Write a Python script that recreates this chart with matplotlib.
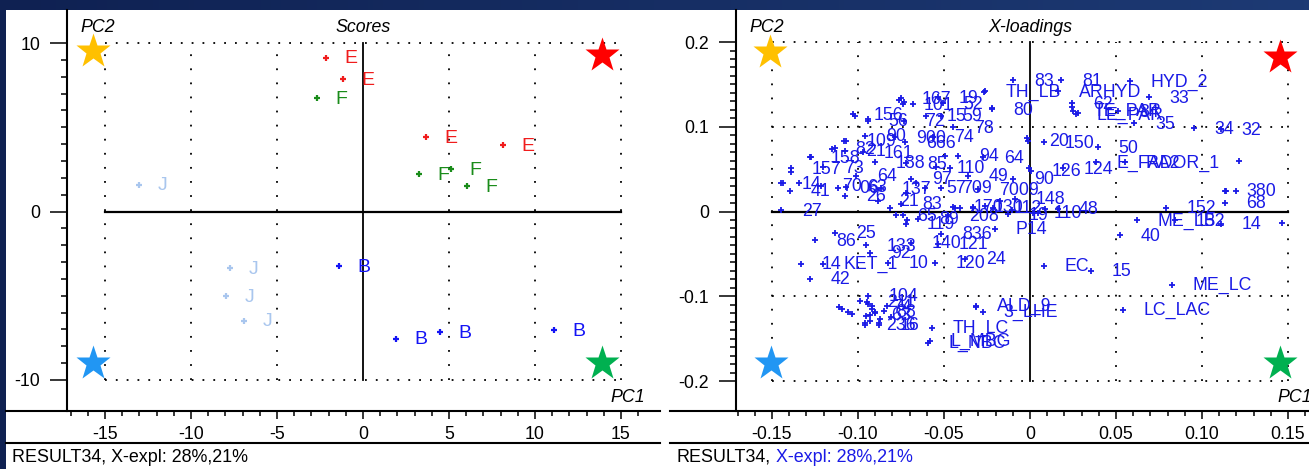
import numpy as np
import matplotlib
matplotlib.use('Agg')
import matplotlib.pyplot as plt
from matplotlib.patches import Rectangle
from matplotlib.lines import Line2D
from matplotlib.colors import LinearSegmentedColormap

W, H, DPI = 1309, 469, 100
plt.rcParams['font.family'] = ['Liberation Sans', 'DejaVu Sans']

# ---------------- data: scores ----------------
score_groups = ['E', 'F', 'J', 'B']
score_colors = ['#f01c1c', '#1a8c1a', '#a9c6ee', '#1414f5']
score_x_E = [-2.15, -1.16, 3.67, 8.14]
score_y_E = [9.14, 7.86, 4.42, 3.95]
score_x_F = [-2.67, 3.24, 5.10, 6.05]
score_y_F = [6.73, 2.23, 2.52, 1.51]
score_x_J = [-13.0, -7.73, -7.97, -6.92]
score_y_J = [1.60, -3.38, -5.04, -6.47]
score_x_B = [-1.40, 1.92, 4.48, 11.10]
score_y_B = [-3.26, -7.54, -7.18, -7.06]

score_xticks = [-15, -10, -5, 0, 5, 10, 15]
score_xticklabels = ['-15', '-10', '-5', '0', '5', '10', '15']
score_yticks = [-10, 0, 10]
score_yticklabels = ['-10', '0', '10']

# corner stars (gold, red, blue, green)
star_colors = ['#ffc000', '#ff0000', '#2196f3', '#00b050']
star_x_scores = [-15.72, 13.9, -15.72, 13.9]
star_y_scores = [9.54, 9.29, -9.02, -9.02]
star_x_load = [-0.151, 0.1453, -0.1506, 0.1453]
star_y_load = [0.1877, 0.182, -0.179, -0.179]

# ---------------- data: X-loadings ----------------
load_labels = [
    '83', '81', 'TH_LB', 'ARHYD', 'HYD_2', '33', '80', '62', 'TE_PAR', 'LE_PAR',
    '84', '35', '34', '32', '20', '150', '50', 'E_FADOR_1', 'RA2', '126',
    '124', '380', '68', '14', '152', 'ME_LB', '152', '40', '148', '48',
    '110', '90', '49', '7009', 'P14', 'EC', '15', 'ME_LC', 'LC_LAC', 'ALD_9',
    '3_LHE', 'TH_LC', 'L_NBC', 'L_MBG', '104', '236', '16', '42', '14', 'KET_1',
    '10', '120', '24', '86', '25', '133', '92', '140', '121', '119',
    '836', '89', '27', '156', '56', '72', '15', '59', '78', '167',
    '101', '19', '52', '90', '109', '900', '666', '74', '82', '21',
    '161', '158', '188', '85', '110', '94', '64', '157', '73', '64',
    '14', '41', '70', '06', '63', '26', '97', '137', '57', '709',
    '21', '83', '170', '130', '112', '65', '208', '19', '211', '74',
    '88', '63',
]
load_x = [
    -0.0099, 0.0183, -0.0262, 0.0163, 0.0581, 0.0692, -0.0221, 0.0244, 0.0250, 0.0267,
    0.0512, 0.0605, 0.0953, 0.1110, -0.0012, 0.0081, 0.0395, 0.0384, 0.0552, 0.0006,
    0.0192, 0.1134, 0.1134, 0.1110, 0.0791, 0.0622, 0.0843, 0.0523, -0.0087, 0.0163,
    0.0017, -0.0099, -0.0360, -0.0302, -0.0203, 0.0081, 0.0355, 0.0826, 0.0538, -0.0314,
    -0.0273, -0.0570, -0.0593, -0.0581, -0.0942, -0.0959, -0.0878, -0.1279, -0.1331, -0.1203,
    -0.0826, -0.0552, -0.0378, -0.1250, -0.1134, -0.0953, -0.0930, -0.0692, -0.0535, -0.0721,
    -0.0517, -0.0651, -0.1448, -0.1029, -0.0942, -0.0733, -0.0605, -0.0517, -0.0448, -0.0750,
    -0.0738, -0.0535, -0.0506, -0.0959, -0.1070, -0.0785, -0.0727, -0.0564, -0.1134, -0.1076,
    -0.0971, -0.1279, -0.0901, -0.0721, -0.0547, -0.0419, -0.0273, -0.1390, -0.1203, -0.1012,
    -0.1448, -0.1395, -0.1215, -0.1116, -0.1070, -0.1076, -0.0692, -0.0866, -0.0610, -0.0517,
    -0.0884, -0.0750, -0.0448, -0.0331, -0.0215, -0.0779, -0.0477, -0.0128, -0.0950, -0.0920,
    -0.0900, -0.0930,
]
load_y = [
    0.1547, 0.1547, 0.1417, 0.1417, 0.1535, 0.1346, 0.1204, 0.1275, 0.1192, 0.1145,
    0.1181, 0.1039, 0.0980, 0.0968, 0.0838, 0.0815, 0.0756, 0.0579, 0.0579, 0.0484,
    0.0508, 0.0248, 0.0106, -0.0142, 0.0047, -0.0106, -0.0106, -0.0283, 0.0153, 0.0035,
    -0.0012, 0.0389, 0.0425, 0.0260, -0.0201, -0.0638, -0.0697, -0.0862, -0.1157, -0.1110,
    -0.1181, -0.1369, -0.1547, -0.1523, -0.0992, -0.1334, -0.1334, -0.0791, -0.0614, -0.0614,
    -0.0602, -0.0602, -0.0555, -0.0342, -0.0248, -0.0401, -0.0484, -0.0366, -0.0378, -0.0142,
    -0.0260, -0.0083, 0.0012, 0.1145, 0.1074, 0.1074, 0.1133, 0.1133, 0.0992, 0.1334,
    0.1263, 0.1346, 0.1275, 0.0897, 0.0838, 0.0874, 0.0815, 0.0885, 0.0744, 0.0720,
    0.0697, 0.0638, 0.0579, 0.0567, 0.0520, 0.0661, 0.0638, 0.0508, 0.0520, 0.0425,
    0.0331, 0.0248, 0.0307, 0.0283, 0.0295, 0.0189, 0.0389, 0.0272, 0.0283, 0.0283,
    0.0130, 0.0094, 0.0059, 0.0059, 0.0047, -0.0047, -0.0047, -0.0035, -0.1070, -0.1120,
    -0.1180, -0.1220,
]
# unlabeled loading points
extra_x = [
    -0.1390, -0.1273, -0.1151, -0.1081, -0.1017, -0.0942, -0.0733, -0.0680, -0.0762, -0.0267,
    -0.0221, 0.0244, 0.0279, 0.1215, 0.1140, 0.1198, 0.1465, -0.0721, -0.0663, -0.0814,
    -0.0738, -0.0715, -0.0407, -0.0331, -0.0494, -0.0465, -0.0017, -0.0006, -0.1343, -0.1436,
    -0.1110, -0.1093, -0.1058, -0.1035, -0.0988, -0.0942, -0.0919, -0.0953, -0.0901, -0.0872,
    -0.0930, -0.0849, -0.0959, -0.0878, -0.0808, -0.0831, -0.0314, -0.0436, -0.0262, -0.0174,
    -0.0105, 0.0047, 0.0087,
]
extra_y = [
    0.0472, 0.0638, 0.0732, 0.0838, 0.1133, 0.1086, 0.1287, 0.1263, 0.1311, 0.1405,
    0.1216, 0.1228, 0.1157, 0.0602, 0.0248, 0.0248, -0.0130, 0.0224, 0.0342, 0.0047,
    -0.0047, -0.0106, 0.0047, 0.0047, 0.0661, 0.0519, 0.0862, 0.0508, 0.0342, 0.0342,
    -0.1122, -0.1145, -0.1181, -0.1204, -0.1051, -0.1086, -0.1145, -0.1228, -0.1192, -0.1263,
    -0.1287, -0.1169, -0.1310, -0.1310, -0.1240, -0.1110, -0.1122, 0.0047, 0.0071, 0.0130,
    0.0012, -0.0012, 0.0035,
]

load_xticks = [-0.15, -0.10, -0.05, 0, 0.05, 0.10, 0.15]
load_xticklabels = ['-0.15', '-0.10', '-0.05', '0', '0.05', '0.10', '0.15']
load_yticks = [-0.2, -0.1, 0, 0.1, 0.2]
load_yticklabels = ['-0.2', '-0.1', '0', '0.1', '0.2']

LOAD_COLOR = '#1a1ae6'

# ---------------- figure ----------------
fig = plt.figure(figsize=(W / DPI, H / DPI), dpi=DPI)

bg = fig.add_axes([0, 0, 1, 1], zorder=-20)
bg.imshow(np.linspace(0, 1, 256)[None, :], aspect='auto',
          cmap=LinearSegmentedColormap.from_list('navy', ['#0f2152', '#1d3a74']),
          extent=[0, 1, 0, 1])
bg.axis('off')
fig.add_artist(Rectangle((6 / W, 0), (W - 6) / W, (H - 10) / H, transform=fig.transFigure,
                         facecolor='white', edgecolor='none', zorder=-15))


def px_axes(x0, x1, ytop, ybot):
    return fig.add_axes([x0 / W, (H - ybot) / H, (x1 - x0) / W, (ybot - ytop) / H])


def ftext(px, py, s, **kw):
    return fig.text(px / W, 1 - py / H, s, **kw)


def fline(x0, x1, py, lw=1.5):
    fig.add_artist(Line2D([x0 / W, x1 / W], [1 - py / H, 1 - py / H],
                          transform=fig.transFigure, color='black', lw=lw))


HDOT = (0, (1, 5))
VDOT = (0, (1, 6.8))


def style_axes(ax, xticks, xlabels, yticks, ylabels, xminor, yminor):
    ax.set_facecolor('none')
    for s in ['top', 'right', 'bottom']:
        ax.spines[s].set_visible(False)
    ax.spines['left'].set_linewidth(1.5)
    ax.set_xticks(xticks)
    ax.set_xticklabels(xlabels)
    ax.set_yticks(yticks)
    ax.set_yticklabels(ylabels)
    ax.set_xticks(xminor, minor=True)
    ax.set_yticks(yminor, minor=True)
    ax.tick_params(axis='x', which='major', direction='out', length=5.8, width=1.1,
                   pad=5, labelsize=12.8)
    ax.tick_params(axis='x', which='minor', direction='out', length=3.6, width=1.1)
    ax.tick_params(axis='y', which='major', direction='out', length=12.2, width=1.1,
                   pad=7, labelsize=12.8)
    ax.tick_params(axis='y', which='minor', direction='out', length=4.3, width=1.1)
    # grid: dotted at non-zero ticks, solid through zero
    x0, x1 = xticks[0], xticks[-1]
    y0, y1 = yticks[0], yticks[-1]
    for gx in xticks:
        if gx != 0:
            ax.plot([gx, gx], [y0, y1], ls=VDOT, color='black', lw=1.3, zorder=1)
    for gy in yticks:
        if gy != 0:
            ax.plot([x0, x1], [gy, gy], ls=HDOT, color='black', lw=1.3, zorder=1)
    ax.plot([0, 0], [y0, y1], color='black', lw=1.3, zorder=1)
    ax.plot([x0, x1], [0, 0], color='black', lw=1.6, zorder=1)


# ---- left: Scores ----
ax1 = px_axes(67, 655, 10, 411)
ax1.set_xlim(-17.21, 16.98)
ax1.set_ylim(-11.84, 11.96)
style_axes(ax1, score_xticks, score_xticklabels, score_yticks, score_yticklabels,
           np.arange(-17, 17), np.arange(-10, 11))

for g, c, xs, ys in zip(score_groups, score_colors,
                        [score_x_E, score_x_F, score_x_J, score_x_B],
                        [score_y_E, score_y_F, score_y_J, score_y_B]):
    ax1.plot(xs, ys, ls='none', marker='+', ms=5, mew=1.6, color=c, zorder=3)
    for x, y in zip(xs, ys):
        ax1.annotate(g, (x, y), xytext=(13.5, -1), textcoords='offset points',
                     ha='left', va='center', fontsize=14, color=c, zorder=4)

for c, x, y in zip(star_colors, star_x_scores, star_y_scores):
    ax1.plot([x], [y], marker='*', ms=26, color=c, mec='none', ls='none', zorder=5, clip_on=False)

# ---- right: X-loadings ----
ax2 = px_axes(736, 1309, 10, 411)
ax2.set_xlim(-0.1709, 0.1622)
ax2.set_ylim(-0.2354, 0.2378)
style_axes(ax2, load_xticks, load_xticklabels, load_yticks, load_yticklabels,
           np.arange(-17, 17) / 100, np.arange(-20, 21) / 100)

ax2.plot(extra_x, extra_y, ls='none', marker='+', ms=4.5, mew=1.3, color=LOAD_COLOR, zorder=3)
ax2.plot(load_x, load_y, ls='none', marker='+', ms=4.5, mew=1.3, color=LOAD_COLOR, zorder=3)
for lab, x, y in zip(load_labels, load_x, load_y):
    ax2.annotate(lab, (x, y), xytext=(15, -0.5), textcoords='offset points',
                 ha='left', va='center', fontsize=12.8, color=LOAD_COLOR, zorder=4)

for c, x, y in zip(star_colors, star_x_load, star_y_load):
    ax2.plot([x], [y], marker='*', ms=26, color=c, mec='none', ls='none', zorder=5, clip_on=False)

# ---- axis captions ----
it = dict(fontsize=12.8, style='italic', color='black', va='center')
ftext(98, 28, 'PC2', ha='center', **it)
ftext(363, 28, 'Scores', ha='center', **it)
ftext(645, 397, 'PC1', ha='right', **it)
ftext(767, 28, 'PC2', ha='center', **it)
ftext(1030, 28, 'X-loadings', ha='center', **it)
ftext(1277, 397, 'PC1', ha='left', **it)

# ---- frame lines ----
fline(6, 660, 411)
fline(6, 660, 443)
fline(670, W, 411)
fline(670, W, 443)

# ---- footer ----
ft = dict(fontsize=12.9, va='center', ha='left')
ftext(12, 457, 'RESULT34, X-expl: 28%,21%', color='black', **ft)
ftext(676, 457, 'RESULT34,', color='black', **ft)
ftext(776, 457, 'X-expl: 28%,21%', color=LOAD_COLOR, **ft)

fig.savefig('out.png', dpi=DPI)
